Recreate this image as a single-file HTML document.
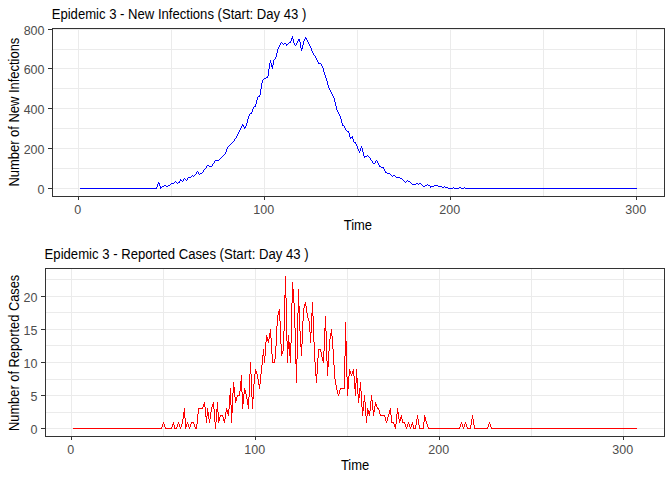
<!DOCTYPE html>
<html><head><meta charset="utf-8"><style>
html,body{margin:0;padding:0;background:#fff;width:672px;height:480px;overflow:hidden}
svg{display:block}
text{font-family:"Liberation Sans",sans-serif}
.tk{font-size:12.5px;fill:#4D4D4D}
.ti{font-size:14px;fill:#000}
.at{font-size:14px;fill:#000}
</style></head><body>
<svg width="672" height="480" viewBox="0 0 672 480">
<rect x="0" y="0" width="672" height="480" fill="#fff"/>
<rect x="53" y="168" width="611" height="1" fill="#EBEBEB"/>
<rect x="53" y="128" width="611" height="1" fill="#EBEBEB"/>
<rect x="53" y="88" width="611" height="1" fill="#EBEBEB"/>
<rect x="53" y="49" width="611" height="1" fill="#EBEBEB"/>
<rect x="53" y="188" width="611" height="1" fill="#EBEBEB"/>
<rect x="53" y="148" width="611" height="1" fill="#EBEBEB"/>
<rect x="53" y="108" width="611" height="1" fill="#EBEBEB"/>
<rect x="53" y="68" width="611" height="1" fill="#EBEBEB"/>
<rect x="53" y="29" width="611" height="1" fill="#EBEBEB"/>
<rect x="171" y="29" width="1" height="167" fill="#EBEBEB"/>
<rect x="357" y="29" width="1" height="167" fill="#EBEBEB"/>
<rect x="543" y="29" width="1" height="167" fill="#EBEBEB"/>
<rect x="78" y="29" width="1" height="167" fill="#EBEBEB"/>
<rect x="264" y="29" width="1" height="167" fill="#EBEBEB"/>
<rect x="450" y="29" width="1" height="167" fill="#EBEBEB"/>
<rect x="636" y="29" width="1" height="167" fill="#EBEBEB"/>
<path fill="#0000FF" shape-rendering="crispEdges" d="M80 188h1v1h-1zM81 188h1v1h-1zM82 188h1v1h-1zM83 188h1v1h-1zM84 188h1v1h-1zM85 188h1v1h-1zM86 188h1v1h-1zM87 188h1v1h-1zM88 188h1v1h-1zM89 188h1v1h-1zM90 188h1v1h-1zM91 188h1v1h-1zM92 188h1v1h-1zM93 188h1v1h-1zM94 188h1v1h-1zM95 188h1v1h-1zM96 188h1v1h-1zM97 188h1v1h-1zM98 188h1v1h-1zM99 188h1v1h-1zM100 188h1v1h-1zM101 188h1v1h-1zM102 188h1v1h-1zM103 188h1v1h-1zM104 188h1v1h-1zM105 188h1v1h-1zM106 188h1v1h-1zM107 188h1v1h-1zM108 188h1v1h-1zM109 188h1v1h-1zM110 188h1v1h-1zM111 188h1v1h-1zM112 188h1v1h-1zM113 188h1v1h-1zM114 188h1v1h-1zM115 188h1v1h-1zM116 188h1v1h-1zM117 188h1v1h-1zM118 188h1v1h-1zM119 188h1v1h-1zM120 188h1v1h-1zM121 188h1v1h-1zM122 188h1v1h-1zM123 188h1v1h-1zM124 188h1v1h-1zM125 188h1v1h-1zM126 188h1v1h-1zM127 188h1v1h-1zM128 188h1v1h-1zM129 188h1v1h-1zM130 188h1v1h-1zM131 188h1v1h-1zM132 188h1v1h-1zM133 188h1v1h-1zM134 188h1v1h-1zM135 188h1v1h-1zM136 188h1v1h-1zM137 188h1v1h-1zM138 188h1v1h-1zM139 188h1v1h-1zM140 188h1v1h-1zM141 188h1v1h-1zM142 188h1v1h-1zM143 188h1v1h-1zM144 188h1v1h-1zM145 188h1v1h-1zM146 188h1v1h-1zM147 188h1v1h-1zM148 188h1v1h-1zM149 188h1v1h-1zM150 188h1v1h-1zM151 188h1v1h-1zM152 188h1v1h-1zM153 188h1v1h-1zM154 188h1v1h-1zM155 188h1v1h-1zM156 187h1v2h-1zM157 184h1v3h-1zM158 182h1v2h-1zM159 183h1v3h-1zM160 186h1v3h-1zM161 187h1v1h-1zM162 186h1v1h-1zM163 186h1v1h-1zM164 185h1v1h-1zM165 185h1v1h-1zM166 186h1v1h-1zM167 186h1v1h-1zM168 185h1v1h-1zM169 185h1v1h-1zM170 184h1v1h-1zM171 183h1v1h-1zM172 183h1v1h-1zM173 183h1v1h-1zM174 182h1v1h-1zM175 181h1v1h-1zM176 182h1v1h-1zM177 183h1v1h-1zM178 182h1v1h-1zM179 181h1v2h-1zM180 179h1v2h-1zM181 180h1v1h-1zM182 181h1v1h-1zM183 179h1v2h-1zM184 178h1v1h-1zM185 179h1v1h-1zM186 180h1v1h-1zM187 178h1v2h-1zM188 177h1v1h-1zM189 177h1v1h-1zM190 177h1v1h-1zM191 176h1v1h-1zM192 175h1v1h-1zM193 176h1v1h-1zM194 175h1v1h-1zM195 174h1v1h-1zM196 172h1v2h-1zM197 171h1v1h-1zM198 172h1v2h-1zM199 174h1v1h-1zM200 173h1v1h-1zM201 173h1v1h-1zM202 172h1v1h-1zM203 170h1v2h-1zM204 169h1v1h-1zM205 168h1v1h-1zM206 166h1v2h-1zM207 165h1v1h-1zM208 165h1v1h-1zM209 166h1v1h-1zM210 166h1v1h-1zM211 166h1v1h-1zM212 164h1v2h-1zM213 163h1v1h-1zM214 161h1v2h-1zM215 160h1v1h-1zM216 160h1v1h-1zM217 160h1v1h-1zM218 160h1v1h-1zM219 159h1v1h-1zM220 158h1v1h-1zM221 157h1v1h-1zM222 156h1v1h-1zM223 155h1v1h-1zM224 154h1v1h-1zM225 152h1v2h-1zM226 149h1v3h-1zM227 147h1v2h-1zM228 146h1v1h-1zM229 145h1v1h-1zM230 144h1v1h-1zM231 143h1v1h-1zM232 142h1v1h-1zM233 141h1v1h-1zM234 139h1v2h-1zM235 138h1v1h-1zM236 136h1v2h-1zM237 134h1v2h-1zM238 132h1v2h-1zM239 130h1v2h-1zM240 128h1v2h-1zM241 126h1v2h-1zM242 124h1v2h-1zM243 125h1v2h-1zM244 127h1v2h-1zM245 126h1v2h-1zM246 123h1v3h-1zM247 119h1v4h-1zM248 116h1v3h-1zM249 114h1v2h-1zM250 113h1v1h-1zM251 112h1v2h-1zM252 109h1v3h-1zM253 107h1v2h-1zM254 106h1v1h-1zM255 104h1v3h-1zM256 100h1v4h-1zM257 97h1v3h-1zM258 96h1v1h-1zM259 95h1v2h-1zM260 89h1v6h-1zM261 83h1v6h-1zM262 80h1v3h-1zM263 79h1v1h-1zM264 78h1v1h-1zM265 78h1v1h-1zM266 77h1v1h-1zM267 76h1v2h-1zM268 69h1v7h-1zM269 63h1v6h-1zM270 60h1v3h-1zM271 63h1v4h-1zM272 65h1v4h-1zM273 60h1v5h-1zM274 59h1v1h-1zM275 57h1v2h-1zM276 53h1v4h-1zM277 49h1v4h-1zM278 47h1v2h-1zM279 45h1v2h-1zM280 43h1v2h-1zM281 42h1v1h-1zM282 43h1v1h-1zM283 44h1v1h-1zM284 43h1v1h-1zM285 43h1v1h-1zM286 44h1v2h-1zM287 44h1v1h-1zM288 43h1v1h-1zM289 42h1v1h-1zM290 41h1v2h-1zM291 38h1v3h-1zM292 36h1v3h-1zM293 39h1v4h-1zM294 43h1v2h-1zM295 45h1v1h-1zM296 43h1v2h-1zM297 41h1v2h-1zM298 39h1v2h-1zM299 39h1v3h-1zM300 42h1v6h-1zM301 48h1v3h-1zM302 45h1v4h-1zM303 41h1v4h-1zM304 39h1v2h-1zM305 37h1v2h-1zM306 38h1v2h-1zM307 40h1v2h-1zM308 42h1v2h-1zM309 44h1v2h-1zM310 46h1v2h-1zM311 48h1v3h-1zM312 51h1v2h-1zM313 53h1v2h-1zM314 55h1v1h-1zM315 56h1v2h-1zM316 58h1v2h-1zM317 60h1v2h-1zM318 62h1v2h-1zM319 63h1v1h-1zM320 63h1v1h-1zM321 64h1v2h-1zM322 66h1v2h-1zM323 68h1v4h-1zM324 72h1v3h-1zM325 75h1v3h-1zM326 78h1v3h-1zM327 81h1v4h-1zM328 85h1v3h-1zM329 88h1v2h-1zM330 90h1v2h-1zM331 92h1v2h-1zM332 94h1v2h-1zM333 96h1v2h-1zM334 98h1v4h-1zM335 102h1v4h-1zM336 106h1v4h-1zM337 110h1v2h-1zM338 112h1v2h-1zM339 114h1v2h-1zM340 116h1v3h-1zM341 119h1v4h-1zM342 123h1v3h-1zM343 125h1v1h-1zM344 126h1v2h-1zM345 128h1v2h-1zM346 130h1v1h-1zM347 131h1v1h-1zM348 131h1v2h-1zM349 133h1v4h-1zM350 137h1v2h-1zM351 137h1v1h-1zM352 136h1v3h-1zM353 139h1v3h-1zM354 142h1v1h-1zM355 142h1v2h-1zM356 144h1v2h-1zM357 146h1v3h-1zM358 149h1v2h-1zM359 151h1v2h-1zM360 148h1v3h-1zM361 146h1v2h-1zM362 148h1v4h-1zM363 152h1v4h-1zM364 156h1v2h-1zM365 156h1v1h-1zM366 156h1v1h-1zM367 155h1v1h-1zM368 156h1v1h-1zM369 157h1v1h-1zM370 158h1v2h-1zM371 160h1v1h-1zM372 161h1v2h-1zM373 163h1v1h-1zM374 163h1v1h-1zM375 161h1v2h-1zM376 160h1v1h-1zM377 161h1v2h-1zM378 163h1v2h-1zM379 165h1v2h-1zM380 166h1v1h-1zM381 167h1v1h-1zM382 167h1v1h-1zM383 167h1v2h-1zM384 169h1v2h-1zM385 171h1v2h-1zM386 172h1v1h-1zM387 173h1v1h-1zM388 173h1v1h-1zM389 173h1v1h-1zM390 174h1v1h-1zM391 175h1v1h-1zM392 176h1v1h-1zM393 175h1v1h-1zM394 175h1v1h-1zM395 176h1v1h-1zM396 177h1v1h-1zM397 177h1v1h-1zM398 177h1v1h-1zM399 177h1v1h-1zM400 178h1v1h-1zM401 178h1v1h-1zM402 179h1v1h-1zM403 180h1v1h-1zM404 181h1v1h-1zM405 182h1v1h-1zM406 181h1v1h-1zM407 180h1v1h-1zM408 181h1v1h-1zM409 181h1v1h-1zM410 182h1v1h-1zM411 183h1v1h-1zM412 184h1v1h-1zM413 184h1v1h-1zM414 184h1v1h-1zM415 184h1v1h-1zM416 183h1v1h-1zM417 183h1v1h-1zM418 184h1v1h-1zM419 183h1v1h-1zM420 183h1v1h-1zM421 184h1v1h-1zM422 185h1v1h-1zM423 186h1v1h-1zM424 186h1v1h-1zM425 185h1v1h-1zM426 185h1v1h-1zM427 184h1v1h-1zM428 185h1v1h-1zM429 185h1v1h-1zM430 186h1v2h-1zM431 186h1v1h-1zM432 186h1v1h-1zM433 186h1v1h-1zM434 185h1v1h-1zM435 185h1v1h-1zM436 185h1v1h-1zM437 185h1v1h-1zM438 186h1v1h-1zM439 186h1v1h-1zM440 186h1v1h-1zM441 186h1v1h-1zM442 187h1v1h-1zM443 187h1v1h-1zM444 186h1v1h-1zM445 187h1v1h-1zM446 187h1v1h-1zM447 187h1v1h-1zM448 188h1v1h-1zM449 188h1v1h-1zM450 188h1v1h-1zM451 188h1v1h-1zM452 188h1v1h-1zM453 187h1v1h-1zM454 188h1v1h-1zM455 188h1v1h-1zM456 188h1v1h-1zM457 188h1v1h-1zM458 188h1v1h-1zM459 187h1v1h-1zM460 187h1v1h-1zM461 188h1v1h-1zM462 188h1v1h-1zM463 188h1v1h-1zM464 187h1v1h-1zM465 188h1v1h-1zM466 188h1v1h-1zM467 188h1v1h-1zM468 188h1v1h-1zM469 188h1v1h-1zM470 188h1v1h-1zM471 188h1v1h-1zM472 188h1v1h-1zM473 188h1v1h-1zM474 188h1v1h-1zM475 188h1v1h-1zM476 188h1v1h-1zM477 188h1v1h-1zM478 188h1v1h-1zM479 188h1v1h-1zM480 188h1v1h-1zM481 188h1v1h-1zM482 188h1v1h-1zM483 188h1v1h-1zM484 188h1v1h-1zM485 188h1v1h-1zM486 188h1v1h-1zM487 188h1v1h-1zM488 188h1v1h-1zM489 188h1v1h-1zM490 188h1v1h-1zM491 188h1v1h-1zM492 188h1v1h-1zM493 188h1v1h-1zM494 188h1v1h-1zM495 188h1v1h-1zM496 188h1v1h-1zM497 188h1v1h-1zM498 188h1v1h-1zM499 188h1v1h-1zM500 188h1v1h-1zM501 188h1v1h-1zM502 188h1v1h-1zM503 188h1v1h-1zM504 188h1v1h-1zM505 188h1v1h-1zM506 188h1v1h-1zM507 188h1v1h-1zM508 188h1v1h-1zM509 188h1v1h-1zM510 188h1v1h-1zM511 188h1v1h-1zM512 188h1v1h-1zM513 188h1v1h-1zM514 188h1v1h-1zM515 188h1v1h-1zM516 188h1v1h-1zM517 188h1v1h-1zM518 188h1v1h-1zM519 188h1v1h-1zM520 188h1v1h-1zM521 188h1v1h-1zM522 188h1v1h-1zM523 188h1v1h-1zM524 188h1v1h-1zM525 188h1v1h-1zM526 188h1v1h-1zM527 188h1v1h-1zM528 188h1v1h-1zM529 188h1v1h-1zM530 188h1v1h-1zM531 188h1v1h-1zM532 188h1v1h-1zM533 188h1v1h-1zM534 188h1v1h-1zM535 188h1v1h-1zM536 188h1v1h-1zM537 188h1v1h-1zM538 188h1v1h-1zM539 188h1v1h-1zM540 188h1v1h-1zM541 188h1v1h-1zM542 188h1v1h-1zM543 188h1v1h-1zM544 188h1v1h-1zM545 188h1v1h-1zM546 188h1v1h-1zM547 188h1v1h-1zM548 188h1v1h-1zM549 188h1v1h-1zM550 188h1v1h-1zM551 188h1v1h-1zM552 188h1v1h-1zM553 188h1v1h-1zM554 188h1v1h-1zM555 188h1v1h-1zM556 188h1v1h-1zM557 188h1v1h-1zM558 188h1v1h-1zM559 188h1v1h-1zM560 188h1v1h-1zM561 188h1v1h-1zM562 188h1v1h-1zM563 188h1v1h-1zM564 188h1v1h-1zM565 188h1v1h-1zM566 188h1v1h-1zM567 188h1v1h-1zM568 188h1v1h-1zM569 188h1v1h-1zM570 188h1v1h-1zM571 188h1v1h-1zM572 188h1v1h-1zM573 188h1v1h-1zM574 188h1v1h-1zM575 188h1v1h-1zM576 188h1v1h-1zM577 188h1v1h-1zM578 188h1v1h-1zM579 188h1v1h-1zM580 188h1v1h-1zM581 188h1v1h-1zM582 188h1v1h-1zM583 188h1v1h-1zM584 188h1v1h-1zM585 188h1v1h-1zM586 188h1v1h-1zM587 188h1v1h-1zM588 188h1v1h-1zM589 188h1v1h-1zM590 188h1v1h-1zM591 188h1v1h-1zM592 188h1v1h-1zM593 188h1v1h-1zM594 188h1v1h-1zM595 188h1v1h-1zM596 188h1v1h-1zM597 188h1v1h-1zM598 188h1v1h-1zM599 188h1v1h-1zM600 188h1v1h-1zM601 188h1v1h-1zM602 188h1v1h-1zM603 188h1v1h-1zM604 188h1v1h-1zM605 188h1v1h-1zM606 188h1v1h-1zM607 188h1v1h-1zM608 188h1v1h-1zM609 188h1v1h-1zM610 188h1v1h-1zM611 188h1v1h-1zM612 188h1v1h-1zM613 188h1v1h-1zM614 188h1v1h-1zM615 188h1v1h-1zM616 188h1v1h-1zM617 188h1v1h-1zM618 188h1v1h-1zM619 188h1v1h-1zM620 188h1v1h-1zM621 188h1v1h-1zM622 188h1v1h-1zM623 188h1v1h-1zM624 188h1v1h-1zM625 188h1v1h-1zM626 188h1v1h-1zM627 188h1v1h-1zM628 188h1v1h-1zM629 188h1v1h-1zM630 188h1v1h-1zM631 188h1v1h-1zM632 188h1v1h-1zM633 188h1v1h-1zM634 188h1v1h-1zM635 188h1v1h-1zM636 188h1v1h-1z"/>
<rect x="52.5" y="28.5" width="612" height="168" fill="none" stroke="#333333" stroke-width="1"/>
<rect x="48" y="188" width="4" height="1" fill="#333333"/>
<rect x="48" y="148" width="4" height="1" fill="#333333"/>
<rect x="48" y="108" width="4" height="1" fill="#333333"/>
<rect x="48" y="68" width="4" height="1" fill="#333333"/>
<rect x="48" y="29" width="4" height="1" fill="#333333"/>
<rect x="78" y="197" width="1" height="3" fill="#333333"/>
<rect x="264" y="197" width="1" height="3" fill="#333333"/>
<rect x="450" y="197" width="1" height="3" fill="#333333"/>
<rect x="636" y="197" width="1" height="3" fill="#333333"/>
<text x="44.5" y="194" text-anchor="end" class="tk">0</text>
<text x="44.5" y="154" text-anchor="end" class="tk">200</text>
<text x="44.5" y="114" text-anchor="end" class="tk">400</text>
<text x="44.5" y="74" text-anchor="end" class="tk">600</text>
<text x="44.5" y="35" text-anchor="end" class="tk">800</text>
<text x="77.7" y="214" text-anchor="middle" class="tk">0</text>
<text x="263.7" y="214" text-anchor="middle" class="tk">100</text>
<text x="449.7" y="214" text-anchor="middle" class="tk">200</text>
<text x="635.7" y="214" text-anchor="middle" class="tk">300</text>
<text x="51.7" y="19" textLength="254.64" lengthAdjust="spacingAndGlyphs" class="ti">Epidemic 3 - New Infections (Start: Day 43 )</text>
<text x="343.7" y="230" textLength="28.36" lengthAdjust="spacingAndGlyphs" class="at">Time</text>
<text transform="translate(19,186.6) rotate(-90)" x="0" y="0" textLength="148.93" lengthAdjust="spacingAndGlyphs" class="at">Number of New Infections</text>
<rect x="46" y="412" width="618" height="1" fill="#EBEBEB"/>
<rect x="46" y="379" width="618" height="1" fill="#EBEBEB"/>
<rect x="46" y="345" width="618" height="1" fill="#EBEBEB"/>
<rect x="46" y="312" width="618" height="1" fill="#EBEBEB"/>
<rect x="46" y="279" width="618" height="1" fill="#EBEBEB"/>
<rect x="46" y="428" width="618" height="1" fill="#EBEBEB"/>
<rect x="46" y="395" width="618" height="1" fill="#EBEBEB"/>
<rect x="46" y="362" width="618" height="1" fill="#EBEBEB"/>
<rect x="46" y="329" width="618" height="1" fill="#EBEBEB"/>
<rect x="46" y="296" width="618" height="1" fill="#EBEBEB"/>
<rect x="163" y="269" width="1" height="167" fill="#EBEBEB"/>
<rect x="347" y="269" width="1" height="167" fill="#EBEBEB"/>
<rect x="531" y="269" width="1" height="167" fill="#EBEBEB"/>
<rect x="71" y="269" width="1" height="167" fill="#EBEBEB"/>
<rect x="255" y="269" width="1" height="167" fill="#EBEBEB"/>
<rect x="439" y="269" width="1" height="167" fill="#EBEBEB"/>
<rect x="623" y="269" width="1" height="167" fill="#EBEBEB"/>
<path fill="#FF0000" shape-rendering="crispEdges" d="M73 428h1v1h-1zM74 428h1v1h-1zM75 428h1v1h-1zM76 428h1v1h-1zM77 428h1v1h-1zM78 428h1v1h-1zM79 428h1v1h-1zM80 428h1v1h-1zM81 428h1v1h-1zM82 428h1v1h-1zM83 428h1v1h-1zM84 428h1v1h-1zM85 428h1v1h-1zM86 428h1v1h-1zM87 428h1v1h-1zM88 428h1v1h-1zM89 428h1v1h-1zM90 428h1v1h-1zM91 428h1v1h-1zM92 428h1v1h-1zM93 428h1v1h-1zM94 428h1v1h-1zM95 428h1v1h-1zM96 428h1v1h-1zM97 428h1v1h-1zM98 428h1v1h-1zM99 428h1v1h-1zM100 428h1v1h-1zM101 428h1v1h-1zM102 428h1v1h-1zM103 428h1v1h-1zM104 428h1v1h-1zM105 428h1v1h-1zM106 428h1v1h-1zM107 428h1v1h-1zM108 428h1v1h-1zM109 428h1v1h-1zM110 428h1v1h-1zM111 428h1v1h-1zM112 428h1v1h-1zM113 428h1v1h-1zM114 428h1v1h-1zM115 428h1v1h-1zM116 428h1v1h-1zM117 428h1v1h-1zM118 428h1v1h-1zM119 428h1v1h-1zM120 428h1v1h-1zM121 428h1v1h-1zM122 428h1v1h-1zM123 428h1v1h-1zM124 428h1v1h-1zM125 428h1v1h-1zM126 428h1v1h-1zM127 428h1v1h-1zM128 428h1v1h-1zM129 428h1v1h-1zM130 428h1v1h-1zM131 428h1v1h-1zM132 428h1v1h-1zM133 428h1v1h-1zM134 428h1v1h-1zM135 428h1v1h-1zM136 428h1v1h-1zM137 428h1v1h-1zM138 428h1v1h-1zM139 428h1v1h-1zM140 428h1v1h-1zM141 428h1v1h-1zM142 428h1v1h-1zM143 428h1v1h-1zM144 428h1v1h-1zM145 428h1v1h-1zM146 428h1v1h-1zM147 428h1v1h-1zM148 428h1v1h-1zM149 428h1v1h-1zM150 428h1v1h-1zM151 428h1v1h-1zM152 428h1v1h-1zM153 428h1v1h-1zM154 428h1v1h-1zM155 428h1v1h-1zM156 428h1v1h-1zM157 428h1v1h-1zM158 428h1v1h-1zM159 428h1v1h-1zM160 428h1v1h-1zM161 427h1v2h-1zM162 424h1v3h-1zM163 422h1v2h-1zM164 424h1v3h-1zM165 427h1v2h-1zM166 428h1v1h-1zM167 428h1v1h-1zM168 428h1v1h-1zM169 428h1v1h-1zM170 428h1v1h-1zM171 427h1v2h-1zM172 424h1v3h-1zM173 422h1v3h-1zM174 425h1v4h-1zM175 428h1v1h-1zM176 427h1v2h-1zM177 424h1v3h-1zM178 422h1v2h-1zM179 424h1v3h-1zM180 427h1v2h-1zM181 424h1v3h-1zM182 419h1v5h-1zM183 412h1v7h-1zM184 408h1v10h-1zM185 418h1v11h-1zM186 424h1v3h-1zM187 422h1v2h-1zM188 424h1v3h-1zM189 427h1v2h-1zM190 424h1v3h-1zM191 422h1v2h-1zM192 422h1v1h-1zM193 422h1v2h-1zM194 424h1v3h-1zM195 427h1v2h-1zM196 424h1v5h-1zM197 414h1v10h-1zM198 408h1v6h-1zM199 408h1v1h-1zM200 408h1v1h-1zM201 408h1v1h-1zM202 407h1v2h-1zM203 404h1v3h-1zM204 402h1v5h-1zM205 407h1v10h-1zM206 416h1v7h-1zM207 408h1v8h-1zM208 412h1v7h-1zM209 419h1v4h-1zM210 412h1v7h-1zM211 407h1v5h-1zM212 404h1v3h-1zM213 402h1v7h-1zM214 409h1v13h-1zM215 422h1v7h-1zM216 409h1v13h-1zM217 402h1v10h-1zM218 412h1v11h-1zM219 417h1v4h-1zM220 415h1v2h-1zM221 415h1v1h-1zM222 415h1v2h-1zM223 417h1v4h-1zM224 419h1v4h-1zM225 412h1v7h-1zM226 408h1v4h-1zM227 410h1v4h-1zM228 409h1v7h-1zM229 395h1v14h-1zM230 388h1v17h-1zM231 405h1v18h-1zM232 393h1v20h-1zM233 382h1v11h-1zM234 387h1v10h-1zM235 397h1v6h-1zM236 397h1v4h-1zM237 395h1v2h-1zM238 395h1v1h-1zM239 391h1v5h-1zM240 381h1v10h-1zM241 375h1v17h-1zM242 392h1v17h-1zM243 394h1v10h-1zM244 388h1v6h-1zM245 390h1v4h-1zM246 394h1v5h-1zM247 399h1v6h-1zM248 397h1v12h-1zM249 374h1v23h-1zM250 362h1v12h-1zM251 374h1v23h-1zM252 397h1v12h-1zM253 384h1v15h-1zM254 374h1v10h-1zM255 369h1v5h-1zM256 371h1v3h-1zM257 374h1v5h-1zM258 379h1v6h-1zM259 384h1v5h-1zM260 374h1v10h-1zM261 365h1v9h-1zM262 355h1v10h-1zM263 349h1v7h-1zM264 356h1v7h-1zM265 342h1v14h-1zM266 335h1v7h-1zM267 337h1v4h-1zM268 339h1v4h-1zM269 333h1v6h-1zM270 329h1v9h-1zM271 338h1v16h-1zM272 354h1v9h-1zM273 362h1v1h-1zM274 359h1v4h-1zM275 346h1v13h-1zM276 326h1v20h-1zM277 315h1v11h-1zM278 311h1v4h-1zM279 309h1v12h-1zM280 321h1v23h-1zM281 344h1v12h-1zM282 351h1v3h-1zM283 331h1v20h-1zM284 295h1v36h-1zM285 276h1v22h-1zM286 298h1v43h-1zM287 341h1v22h-1zM288 335h1v14h-1zM289 342h1v14h-1zM290 343h1v20h-1zM291 303h1v40h-1zM292 282h1v21h-1zM293 289h1v14h-1zM294 303h1v25h-1zM295 328h1v36h-1zM296 359h1v24h-1zM297 313h1v46h-1zM298 289h1v24h-1zM299 306h1v25h-1zM300 331h1v16h-1zM301 344h1v12h-1zM302 321h1v23h-1zM303 308h1v13h-1zM304 304h1v4h-1zM305 302h1v4h-1zM306 306h1v7h-1zM307 313h1v5h-1zM308 318h1v3h-1zM309 321h1v11h-1zM310 332h1v11h-1zM311 313h1v20h-1zM312 302h1v14h-1zM313 316h1v26h-1zM314 342h1v20h-1zM315 362h1v14h-1zM316 374h1v9h-1zM317 358h1v16h-1zM318 349h1v9h-1zM319 349h1v1h-1zM320 349h1v3h-1zM321 352h1v5h-1zM322 357h1v4h-1zM323 351h1v12h-1zM324 328h1v23h-1zM325 316h1v15h-1zM326 331h1v30h-1zM327 361h1v15h-1zM328 351h1v16h-1zM329 339h1v12h-1zM330 333h1v6h-1zM331 329h1v7h-1zM332 336h1v13h-1zM333 349h1v16h-1zM334 365h1v14h-1zM335 379h1v6h-1zM336 385h1v5h-1zM337 390h1v4h-1zM338 394h1v2h-1zM339 390h1v4h-1zM340 388h1v2h-1zM341 388h1v1h-1zM342 388h1v1h-1zM343 388h1v1h-1zM344 356h1v33h-1zM345 322h1v34h-1zM346 341h1v36h-1zM347 377h1v19h-1zM348 376h1v13h-1zM349 369h1v7h-1zM350 371h1v3h-1zM351 374h1v2h-1zM352 371h1v3h-1zM353 369h1v7h-1zM354 376h1v13h-1zM355 383h1v13h-1zM356 369h1v14h-1zM357 378h1v16h-1zM358 394h1v9h-1zM359 388h1v10h-1zM360 382h1v9h-1zM361 391h1v16h-1zM362 407h1v9h-1zM363 401h1v10h-1zM364 395h1v7h-1zM365 402h1v14h-1zM366 416h1v7h-1zM367 408h1v8h-1zM368 410h1v4h-1zM369 411h1v5h-1zM370 401h1v10h-1zM371 395h1v6h-1zM372 400h1v10h-1zM373 410h1v6h-1zM374 406h1v6h-1zM375 402h1v4h-1zM376 404h1v3h-1zM377 407h1v2h-1zM378 408h1v2h-1zM379 410h1v4h-1zM380 414h1v2h-1zM381 415h1v1h-1zM382 415h1v1h-1zM383 415h1v1h-1zM384 415h1v2h-1zM385 417h1v4h-1zM386 421h1v2h-1zM387 417h1v4h-1zM388 414h1v3h-1zM389 410h1v4h-1zM390 408h1v7h-1zM391 415h1v8h-1zM392 422h1v1h-1zM393 422h1v2h-1zM394 424h1v3h-1zM395 424h1v5h-1zM396 414h1v10h-1zM397 408h1v6h-1zM398 412h1v7h-1zM399 419h1v4h-1zM400 417h1v4h-1zM401 415h1v4h-1zM402 419h1v4h-1zM403 422h1v1h-1zM404 422h1v2h-1zM405 424h1v3h-1zM406 427h1v2h-1zM407 424h1v3h-1zM408 422h1v2h-1zM409 424h1v3h-1zM410 427h1v2h-1zM411 424h1v3h-1zM412 422h1v3h-1zM413 425h1v4h-1zM414 428h1v1h-1zM415 425h1v4h-1zM416 419h1v6h-1zM417 415h1v4h-1zM418 419h1v6h-1zM419 425h1v4h-1zM420 428h1v1h-1zM421 428h1v1h-1zM422 428h1v1h-1zM423 422h1v7h-1zM424 415h1v7h-1zM425 417h1v4h-1zM426 421h1v3h-1zM427 424h1v3h-1zM428 427h1v2h-1zM429 428h1v1h-1zM430 428h1v1h-1zM431 428h1v1h-1zM432 428h1v1h-1zM433 428h1v1h-1zM434 428h1v1h-1zM435 428h1v1h-1zM436 428h1v1h-1zM437 428h1v1h-1zM438 428h1v1h-1zM439 428h1v1h-1zM440 428h1v1h-1zM441 428h1v1h-1zM442 428h1v1h-1zM443 428h1v1h-1zM444 428h1v1h-1zM445 428h1v1h-1zM446 428h1v1h-1zM447 428h1v1h-1zM448 428h1v1h-1zM449 428h1v1h-1zM450 428h1v1h-1zM451 428h1v1h-1zM452 428h1v1h-1zM453 428h1v1h-1zM454 428h1v1h-1zM455 428h1v1h-1zM456 428h1v1h-1zM457 428h1v1h-1zM458 428h1v1h-1zM459 427h1v2h-1zM460 424h1v3h-1zM461 422h1v2h-1zM462 424h1v3h-1zM463 427h1v2h-1zM464 424h1v3h-1zM465 422h1v2h-1zM466 424h1v3h-1zM467 427h1v2h-1zM468 428h1v1h-1zM469 428h1v1h-1zM470 425h1v4h-1zM471 419h1v6h-1zM472 415h1v4h-1zM473 419h1v6h-1zM474 425h1v4h-1zM475 428h1v1h-1zM476 428h1v1h-1zM477 428h1v1h-1zM478 428h1v1h-1zM479 428h1v1h-1zM480 428h1v1h-1zM481 428h1v1h-1zM482 428h1v1h-1zM483 428h1v1h-1zM484 428h1v1h-1zM485 428h1v1h-1zM486 428h1v1h-1zM487 427h1v2h-1zM488 424h1v3h-1zM489 422h1v2h-1zM490 424h1v3h-1zM491 427h1v2h-1zM492 428h1v1h-1zM493 428h1v1h-1zM494 428h1v1h-1zM495 428h1v1h-1zM496 428h1v1h-1zM497 428h1v1h-1zM498 428h1v1h-1zM499 428h1v1h-1zM500 428h1v1h-1zM501 428h1v1h-1zM502 428h1v1h-1zM503 428h1v1h-1zM504 428h1v1h-1zM505 428h1v1h-1zM506 428h1v1h-1zM507 428h1v1h-1zM508 428h1v1h-1zM509 428h1v1h-1zM510 428h1v1h-1zM511 428h1v1h-1zM512 428h1v1h-1zM513 428h1v1h-1zM514 428h1v1h-1zM515 428h1v1h-1zM516 428h1v1h-1zM517 428h1v1h-1zM518 428h1v1h-1zM519 428h1v1h-1zM520 428h1v1h-1zM521 428h1v1h-1zM522 428h1v1h-1zM523 428h1v1h-1zM524 428h1v1h-1zM525 428h1v1h-1zM526 428h1v1h-1zM527 428h1v1h-1zM528 428h1v1h-1zM529 428h1v1h-1zM530 428h1v1h-1zM531 428h1v1h-1zM532 428h1v1h-1zM533 428h1v1h-1zM534 428h1v1h-1zM535 428h1v1h-1zM536 428h1v1h-1zM537 428h1v1h-1zM538 428h1v1h-1zM539 428h1v1h-1zM540 428h1v1h-1zM541 428h1v1h-1zM542 428h1v1h-1zM543 428h1v1h-1zM544 428h1v1h-1zM545 428h1v1h-1zM546 428h1v1h-1zM547 428h1v1h-1zM548 428h1v1h-1zM549 428h1v1h-1zM550 428h1v1h-1zM551 428h1v1h-1zM552 428h1v1h-1zM553 428h1v1h-1zM554 428h1v1h-1zM555 428h1v1h-1zM556 428h1v1h-1zM557 428h1v1h-1zM558 428h1v1h-1zM559 428h1v1h-1zM560 428h1v1h-1zM561 428h1v1h-1zM562 428h1v1h-1zM563 428h1v1h-1zM564 428h1v1h-1zM565 428h1v1h-1zM566 428h1v1h-1zM567 428h1v1h-1zM568 428h1v1h-1zM569 428h1v1h-1zM570 428h1v1h-1zM571 428h1v1h-1zM572 428h1v1h-1zM573 428h1v1h-1zM574 428h1v1h-1zM575 428h1v1h-1zM576 428h1v1h-1zM577 428h1v1h-1zM578 428h1v1h-1zM579 428h1v1h-1zM580 428h1v1h-1zM581 428h1v1h-1zM582 428h1v1h-1zM583 428h1v1h-1zM584 428h1v1h-1zM585 428h1v1h-1zM586 428h1v1h-1zM587 428h1v1h-1zM588 428h1v1h-1zM589 428h1v1h-1zM590 428h1v1h-1zM591 428h1v1h-1zM592 428h1v1h-1zM593 428h1v1h-1zM594 428h1v1h-1zM595 428h1v1h-1zM596 428h1v1h-1zM597 428h1v1h-1zM598 428h1v1h-1zM599 428h1v1h-1zM600 428h1v1h-1zM601 428h1v1h-1zM602 428h1v1h-1zM603 428h1v1h-1zM604 428h1v1h-1zM605 428h1v1h-1zM606 428h1v1h-1zM607 428h1v1h-1zM608 428h1v1h-1zM609 428h1v1h-1zM610 428h1v1h-1zM611 428h1v1h-1zM612 428h1v1h-1zM613 428h1v1h-1zM614 428h1v1h-1zM615 428h1v1h-1zM616 428h1v1h-1zM617 428h1v1h-1zM618 428h1v1h-1zM619 428h1v1h-1zM620 428h1v1h-1zM621 428h1v1h-1zM622 428h1v1h-1zM623 428h1v1h-1zM624 428h1v1h-1zM625 428h1v1h-1zM626 428h1v1h-1zM627 428h1v1h-1zM628 428h1v1h-1zM629 428h1v1h-1zM630 428h1v1h-1zM631 428h1v1h-1zM632 428h1v1h-1zM633 428h1v1h-1zM634 428h1v1h-1zM635 428h1v1h-1zM636 428h1v1h-1z"/>
<rect x="45.5" y="268.5" width="619" height="168" fill="none" stroke="#333333" stroke-width="1"/>
<rect x="41" y="428" width="4" height="1" fill="#333333"/>
<rect x="41" y="395" width="4" height="1" fill="#333333"/>
<rect x="41" y="362" width="4" height="1" fill="#333333"/>
<rect x="41" y="329" width="4" height="1" fill="#333333"/>
<rect x="41" y="296" width="4" height="1" fill="#333333"/>
<rect x="71" y="437" width="1" height="3" fill="#333333"/>
<rect x="255" y="437" width="1" height="3" fill="#333333"/>
<rect x="439" y="437" width="1" height="3" fill="#333333"/>
<rect x="623" y="437" width="1" height="3" fill="#333333"/>
<text x="37.5" y="434" text-anchor="end" class="tk">0</text>
<text x="37.5" y="401" text-anchor="end" class="tk">5</text>
<text x="37.5" y="368" text-anchor="end" class="tk">10</text>
<text x="37.5" y="335" text-anchor="end" class="tk">15</text>
<text x="37.5" y="302" text-anchor="end" class="tk">20</text>
<text x="70.7" y="454" text-anchor="middle" class="tk">0</text>
<text x="254.7" y="454" text-anchor="middle" class="tk">100</text>
<text x="438.7" y="454" text-anchor="middle" class="tk">200</text>
<text x="622.7" y="454" text-anchor="middle" class="tk">300</text>
<text x="44.6" y="259" textLength="263.97" lengthAdjust="spacingAndGlyphs" class="ti">Epidemic 3 - Reported Cases (Start: Day 43 )</text>
<text x="340.9" y="470" textLength="28.36" lengthAdjust="spacingAndGlyphs" class="at">Time</text>
<text transform="translate(19,431) rotate(-90)" x="0" y="0" textLength="156.3" lengthAdjust="spacingAndGlyphs" class="at">Number of Reported Cases</text>
</svg>
</body></html>
